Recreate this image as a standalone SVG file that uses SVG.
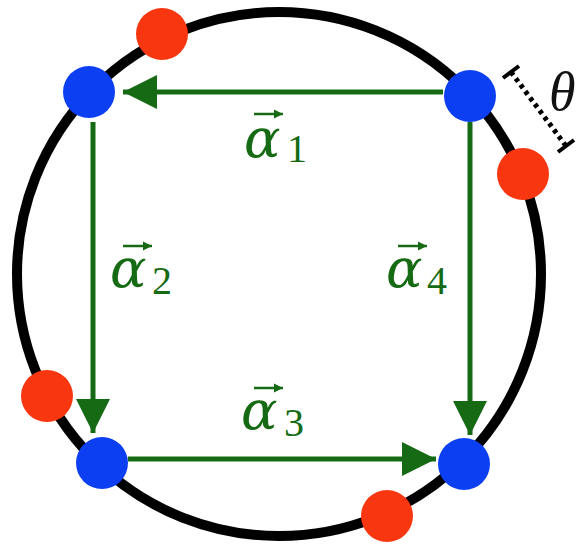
<svg xmlns="http://www.w3.org/2000/svg" width="579" height="547" viewBox="0 0 579 547">
<style>
.ring{fill:none;stroke:#000;stroke-width:10}
.blue{fill:#0d3ff2}
.red{fill:#f8360f}
.vec{stroke:#166a14;stroke-width:5;fill:none}
.acc{stroke:#166a14;stroke-width:2.5;fill:none}
.lbl{font-family:"DejaVu Serif","Liberation Serif",serif;fill:#166a14}
.a{font-style:italic;font-size:54px}
.s{font-family:"Liberation Serif","DejaVu Serif",serif;font-size:40px}
.th{font-family:"Liberation Serif","DejaVu Serif",serif;font-style:italic;font-size:54px;fill:#111}
</style>
<defs>
<marker id="ah" markerUnits="userSpaceOnUse" markerWidth="34" markerHeight="36" refX="34" refY="17" orient="auto">
<path d="M0,0 L34,17 L0,34 z" fill="#166a14"/>
</marker>
<marker id="sa" markerUnits="userSpaceOnUse" markerWidth="10" markerHeight="10" refX="9" refY="5" orient="auto">
<path d="M0,0.5 L9,5 L0,9.5 z" fill="#166a14"/>
</marker>
</defs>
<circle class="ring" cx="279" cy="274" r="262"/>
<g id="connectors">
<line class="vec" x1="443" y1="92" x2="123" y2="92" marker-end="url(#ah)"/>
<line class="vec" x1="93" y1="122" x2="93" y2="433" marker-end="url(#ah)"/>
<line class="vec" x1="128" y1="459" x2="436" y2="459" marker-end="url(#ah)"/>
<line class="vec" x1="470" y1="122" x2="470" y2="435" marker-end="url(#ah)"/>
</g>
<g id="label-a1">
<line class="acc" x1="254" y1="114" x2="283" y2="114" marker-end="url(#sa)"/>
<text class="lbl a" x="244" y="157">α</text><text class="lbl s" x="287" y="162">1</text>
</g>
<g id="label-a2">
<line class="acc" x1="123" y1="246" x2="152" y2="246" marker-end="url(#sa)"/>
<text class="lbl a" x="110" y="287">α</text><text class="lbl s" x="152" y="294">2</text>
</g>
<g id="label-a3">
<line class="acc" x1="254" y1="388" x2="283" y2="388" marker-end="url(#sa)"/>
<text class="lbl a" x="241" y="429">α</text><text class="lbl s" x="284" y="436">3</text>
</g>
<g id="label-a4">
<line class="acc" x1="398" y1="246" x2="427" y2="246" marker-end="url(#sa)"/>
<text class="lbl a" x="386" y="287">α</text><text class="lbl s" x="427" y="294">4</text>
</g>
<g id="theta">
<line x1="511" y1="72" x2="566" y2="146" stroke="#000" stroke-width="5" stroke-dasharray="4 4"/>
<line x1="503" y1="78" x2="519" y2="66" stroke="#000" stroke-width="4"/>
<line x1="558" y1="152" x2="574" y2="140" stroke="#000" stroke-width="4"/>
<text class="th" x="549" y="110">θ</text>
</g>
<g id="node-red-1"><circle class="red" cx="162" cy="34" r="26"/></g>
<g id="node-red-2"><circle class="red" cx="523" cy="174" r="26"/></g>
<g id="node-red-3"><circle class="red" cx="47" cy="396" r="26"/></g>
<g id="node-red-4"><circle class="red" cx="387" cy="516" r="26"/></g>
<g id="node-blue-1"><circle class="blue" cx="89" cy="92" r="26"/></g>
<g id="node-blue-2"><circle class="blue" cx="470" cy="96" r="26"/></g>
<g id="node-blue-3"><circle class="blue" cx="102" cy="463" r="26"/></g>
<g id="node-blue-4"><circle class="blue" cx="464" cy="464" r="26"/></g>
</svg>
